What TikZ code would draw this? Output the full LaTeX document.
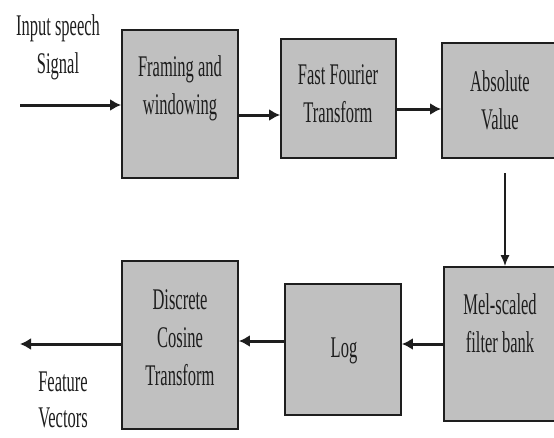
\documentclass[tikz,border=0pt]{standalone}
\usepackage{fontspec}
\setmainfont{Liberation Serif}[FakeStretch=0.55]
\usetikzlibrary{arrows.meta}
\definecolor{boxgray}{RGB}{192,192,192}
\definecolor{ink}{RGB}{30,30,30}
\tikzset{
  blk/.style={draw=ink, line width=1.8pt, fill=boxgray, inner sep=0pt},
  lbl/.style={align=center, text=ink, font=\fontsize{30}{38}\selectfont, inner sep=0pt},
  flow/.style={draw=ink, line width=3pt, -{Latex[length=11pt,width=12pt]}},
  thin/.style={draw=ink, line width=1.5pt, -{Latex[length=11pt,width=9pt]}}
}
\begin{document}
\begin{tikzpicture}[x=1pt,y=-1pt]
\useasboundingbox (0,0) rectangle (554,437);
% boxes
\node[blk, minimum width=116pt, minimum height=148pt] (frame) at (180,104) {};
\node[blk, minimum width=115pt, minimum height=119pt] (fft) at (338.5,98.5) {};
\node[blk, minimum width=116pt, minimum height=115pt] (absv) at (500,100.5) {};
\node[blk, minimum width=114pt, minimum height=154pt] (mel) at (501,344) {};
\node[blk, minimum width=116pt, minimum height=131pt] (logb) at (343,349.5) {};
\node[blk, minimum width=116pt, minimum height=168pt] (dct) at (180,345) {};
% labels
\node[lbl] (frameT) at (180,88) {Framing and\\windowing};
\node[lbl] (fftT) at (338,94) {Fast Fourier\\Transform};
\node[lbl] (absT) at (500,100) {Absolute\\Value};
\node[lbl] (melT) at (500,323) {Mel-scaled\\filter bank};
\node[lbl] (logT) at (344,351) {Log};
\node[lbl] (dctT) at (180,338) {Discrete\\Cosine\\Transform};
\node[lbl] (inT) at (58,47) {Input speech\\Signal};
\node[lbl, font=\fontsize{30}{36}\selectfont] (outT) at (63,400) {Feature\\Vectors};
% free ends
\coordinate (inS) at (20,105);
\coordinate (outE) at (20,344);
% connectors
\draw[flow] (inS) -- (frame.west |- inS);
\draw[flow] (frame.east |- 0,115) -- (fft.west |- 0,115);
\draw[flow] (fft.east |- 0,109) -- (absv.west |- 0,109);
\draw[thin] (505,173) -- (mel.north -| 505,0);
\draw[flow] (mel.west |- 0,344) -- (logb.east |- 0,344);
\draw[flow] (logb.west |- 0,341) -- (dct.east |- 0,341);
\draw[flow] (dct.west |- outE) -- (outE);
\end{tikzpicture}
\end{document}
